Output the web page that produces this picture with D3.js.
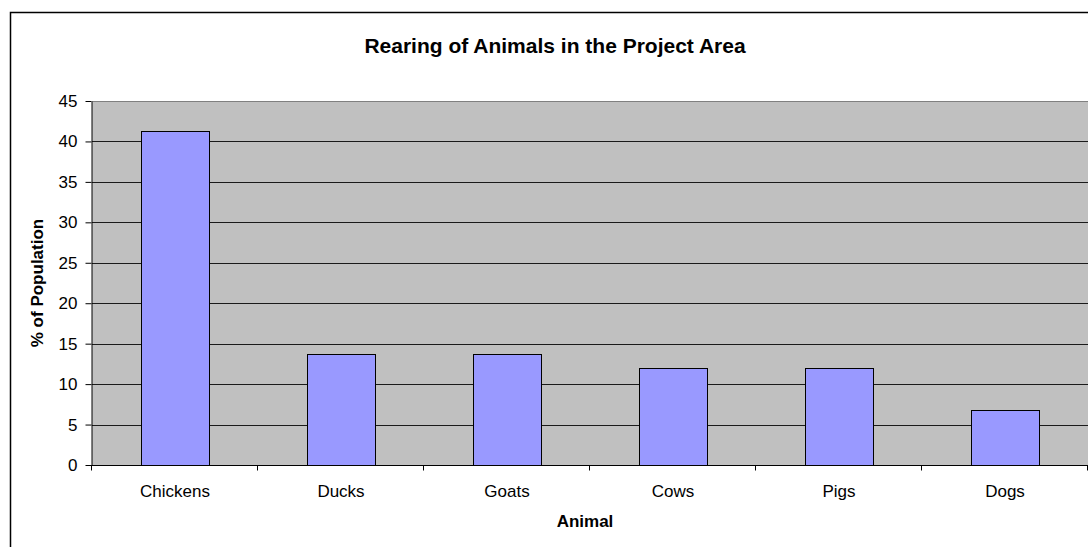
<!DOCTYPE html>
<html>
<head>
<meta charset="utf-8">
<script src="https://cdn.jsdelivr.net/npm/d3@7"></script>
<style>
  html, body { margin: 0; padding: 0; background: #fff; }
  svg { display: block; font-family: "Liberation Sans", Arial, sans-serif; }
</style>
</head>
<body>
<svg id="chart" width="1088" height="547"></svg>
<script>
// Share of households rearing each animal
const animals = ["Chickens", "Ducks", "Goats", "Cows", "Pigs", "Dogs"];
const percentOfPopulation = [41.3, 13.7, 13.7, 12.0, 12.0, 6.8];
const yTicks = [0, 5, 10, 15, 20, 25, 30, 35, 40, 45];

const svg = d3.select("#chart");
const W = 1088, H = 547;
const plot = { left: 92, right: 1088, top: 101, bottom: 465 };

// Outer chart border
svg.append("rect")
  .attr("x", 10.5).attr("y", 12.5)
  .attr("width", W + 20).attr("height", H + 20)
  .attr("fill", "#fff").attr("stroke", "#000").attr("stroke-width", 1.5);

const x = d3.scaleBand().domain(animals).range([plot.left, plot.right]).paddingInner(0).paddingOuter(0);
const y = d3.scaleLinear().domain([0, 45]).range([plot.bottom, plot.top]);

// Plot area background
svg.append("rect")
  .attr("x", plot.left).attr("y", plot.top)
  .attr("width", plot.right - plot.left).attr("height", plot.bottom - plot.top)
  .attr("fill", "#c0c0c0");

// Top edge of plot area
svg.append("line")
  .attr("x1", plot.left).attr("x2", plot.right)
  .attr("y1", plot.top + 0.5).attr("y2", plot.top + 0.5)
  .attr("stroke", "#808080").attr("stroke-width", 1);

// Horizontal gridlines
svg.append("g").selectAll("line")
  .data(yTicks.filter(d => d > 0 && d < 45))
  .join("line")
  .attr("x1", plot.left).attr("x2", plot.right)
  .attr("y1", d => Math.round(y(d)) + 0.5).attr("y2", d => Math.round(y(d)) + 0.5)
  .attr("stroke", "#1a1a1a").attr("stroke-width", 1);

// Bars
const barW = 68;
svg.append("g").selectAll("rect")
  .data(animals.map((a, i) => ({ a, v: percentOfPopulation[i] })))
  .join("rect")
  .attr("x", d => x(d.a) + (x.bandwidth() - barW) / 2 + 0.5)
  .attr("y", d => Math.round(y(d.v)) + 0.5)
  .attr("width", barW)
  .attr("height", d => plot.bottom - Math.round(y(d.v)))
  .attr("fill", "#9999ff")
  .attr("stroke", "#000").attr("stroke-width", 1);

// Y axis
const yAxis = svg.append("g")
  .attr("transform", `translate(${plot.left - 0.5},0)`)
  .call(d3.axisLeft(y).tickValues(yTicks).tickSize(6).tickSizeOuter(0).tickPadding(8));
yAxis.select(".domain").attr("stroke", "#000");
yAxis.selectAll(".tick line").attr("stroke", "#000");
yAxis.selectAll(".tick text")
  .attr("font-family", "'Liberation Sans', Arial, sans-serif")
  .attr("font-size", 17).attr("fill", "#000");

// X axis with ticks at category boundaries
const xg = svg.append("g").attr("transform", `translate(0,${plot.bottom + 0.5})`);
xg.append("line")
  .attr("x1", plot.left - 1).attr("x2", plot.right)
  .attr("stroke", "#000");
xg.selectAll("line.tick")
  .data(d3.range(animals.length + 1))
  .join("line").attr("class", "tick")
  .attr("x1", i => Math.round(plot.left + i * x.step()) - 0.5)
  .attr("x2", i => Math.round(plot.left + i * x.step()) - 0.5)
  .attr("y1", 0).attr("y2", 5)
  .attr("stroke", "#000");
xg.selectAll("text")
  .data(animals)
  .join("text")
  .attr("x", d => x(d) + x.bandwidth() / 2)
  .attr("y", 31)
  .attr("text-anchor", "middle")
  .attr("font-size", 17).attr("fill", "#000")
  .text(d => d);

// Title
svg.append("text")
  .attr("x", 555).attr("y", 53)
  .attr("text-anchor", "middle")
  .attr("font-size", 21).attr("font-weight", "bold")
  .text("Rearing of Animals in the Project Area");

// Axis titles
svg.append("text")
  .attr("x", 585).attr("y", 527)
  .attr("text-anchor", "middle")
  .attr("font-size", 17).attr("font-weight", "bold")
  .text("Animal");

svg.append("text")
  .attr("transform", `translate(43,${(plot.top + plot.bottom) / 2}) rotate(-90)`)
  .attr("text-anchor", "middle")
  .attr("font-size", 17).attr("font-weight", "bold")
  .text("% of Population");
</script>
</body>
</html>
